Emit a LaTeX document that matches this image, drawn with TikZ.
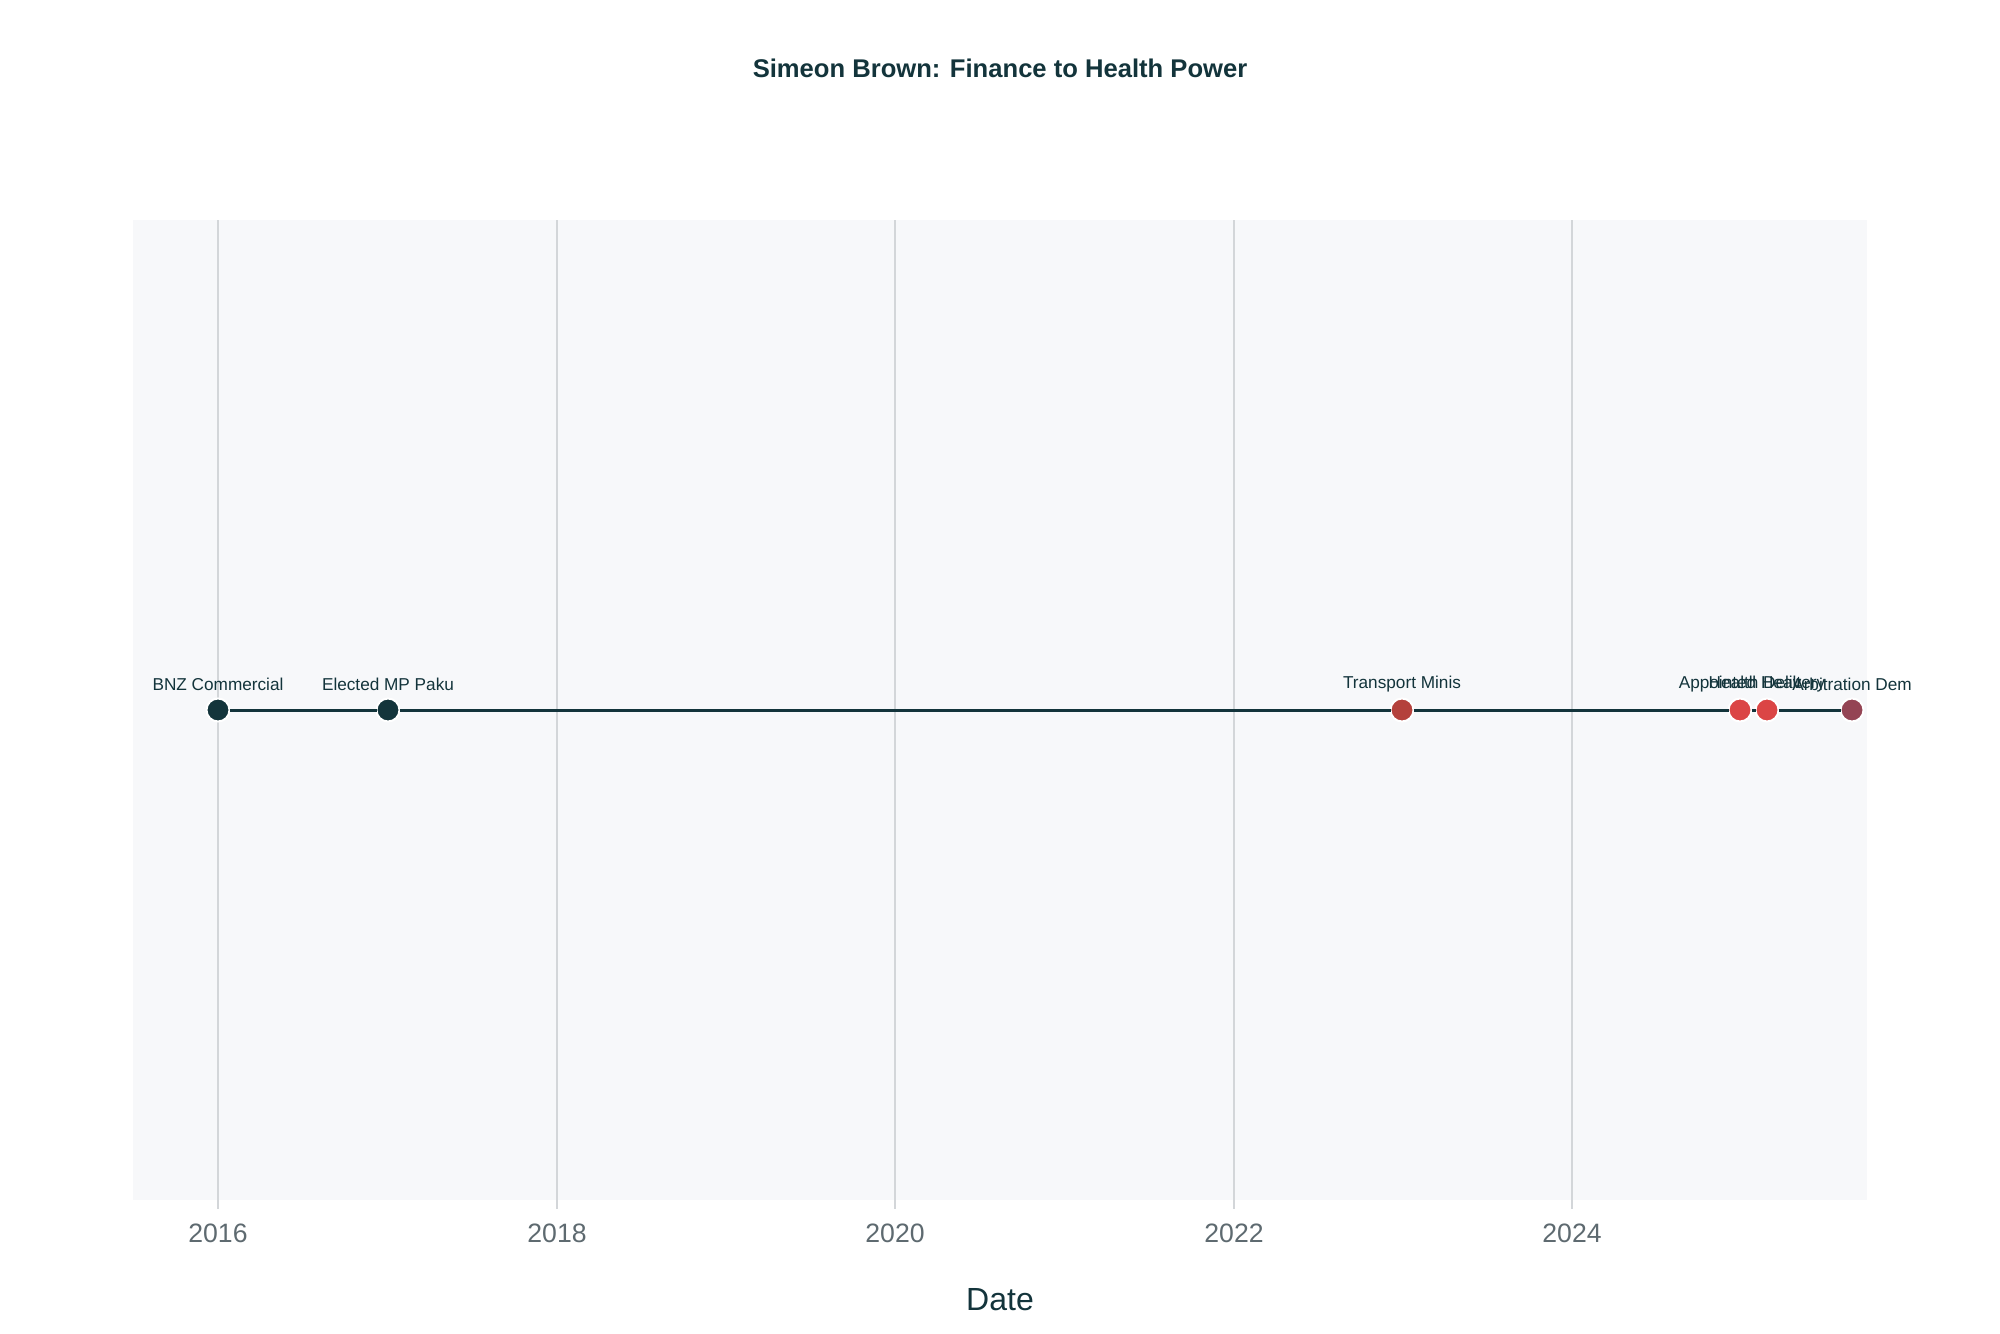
\documentclass[tikz,border=0pt]{standalone}
\usepackage{fontspec}
\setmainfont{Liberation Sans}
\definecolor{ink}{HTML}{13343B}
\definecolor{tickgray}{HTML}{5E6A70}
\definecolor{plotbg}{HTML}{F7F8FA}
\definecolor{gridc}{HTML}{D3D6D9}
\definecolor{cTransport}{HTML}{B4413C}
\definecolor{cHealth}{HTML}{DB4545}
\definecolor{cArb}{HTML}{944454}
\tikzset{
  marker/.style={circle, fill=#1, draw=white, line width=1pt, minimum size=11.5pt, inner sep=0pt, outer sep=0pt},
  evlabel/.style={font=\fontsize{8.6}{10}\selectfont, text=ink, inner sep=0pt},
  ticklabel/.style={font=\fontsize{13.3}{15}\selectfont, text=tickgray, inner sep=0pt},
  gridline/.style={draw=gridc, line width=0.75pt},
  tickmark/.style={draw=gridc, line width=0.75pt},
  conn/.style={draw=ink, line width=1.5pt},
}
\begin{document}
\begin{tikzpicture}[x=0.5pt,y=-0.5pt]
\useasboundingbox[fill=white] (0,0) rectangle (2000,1333);
% plot area
\fill[plotbg] (133,220) rectangle (1867,1200);
% grid lines and ticks
\foreach \xx/\yr in {218/2016,557/2018,895/2020,1234/2022,1572/2024}{
  \draw[gridline] (\xx,220) -- (\xx,1200);
  \draw[tickmark] (\xx,1200) -- (\xx,1209);
  \node[ticklabel] (tick\yr) at (\xx,1233) {\yr};
}
% title and axis title
\node[font=\bfseries\fontsize{12.8}{15}\selectfont, text=ink] (title) at (1000,68) {Simeon Brown: Finance to Health Power};
\node[font=\fontsize{16}{19}\selectfont, text=ink] (xtitle) at (1000,1300) {Date};
% markers
\node[marker=ink] (bnz) at (218,710) {};
\node[marker=ink] (mp) at (388,710) {};
\node[marker=cTransport] (transport) at (1402,710) {};
\node[marker=cHealth] (appointed) at (1740,710) {};
\node[marker=cHealth] (delivery) at (1767,710) {};
\node[marker=cArb] (arb) at (1852,710) {};
% connectors
\draw[conn] (bnz) -- (mp);
\draw[conn] (mp) -- (transport);
\draw[conn] (transport) -- (appointed);
\draw[conn] (appointed) -- (delivery);
\draw[conn] (delivery) -- (arb);
% labels
\node[evlabel] (lbnz) at (218,684) {BNZ Commercial};
\node[evlabel] (lmp) at (388,684) {Elected MP Paku};
\node[evlabel] (ltransport) at (1402,684) {Transport Minis};
\node[evlabel] (lappointed) at (1740,684) {Appointed Healt};
\node[evlabel] (ldelivery) at (1767,684) {Health Delivery};
\node[evlabel] (larb) at (1852,684) {Arbitration Dem};
\end{tikzpicture}
\end{document}
